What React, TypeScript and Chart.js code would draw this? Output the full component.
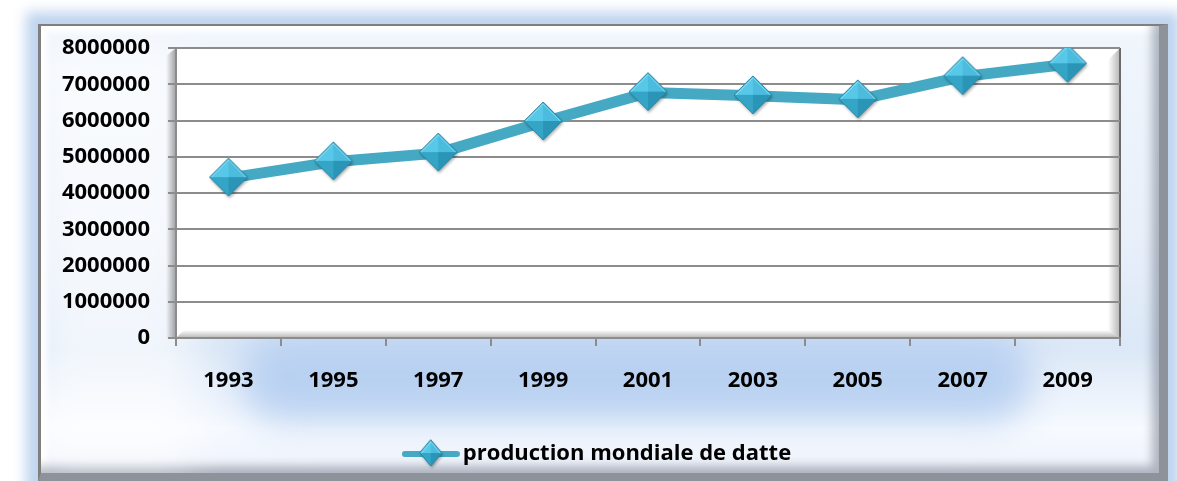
import React, { useEffect, useRef } from 'react';
import { Chart, registerables } from 'chart.js';

Chart.register(...registerables);

const years = ['1993', '1995', '1997', '1999', '2001', '2003', '2005', '2007', '2009'];
const production = [4410000, 4860000, 5100000, 5960000, 6770000, 6680000, 6570000, 7210000, 7550000];
const yMin = 0;
const yMax = 8000000;
const yStep = 1000000;
const seriesLabel = 'production mondiale de datte';

const W = 1177;
const H = 481;
const LINE = '#46A9C4';
const GRID = '#8c8c8c';
const FONT = { family: '"Open Sans", "DejaVu Sans", sans-serif', size: 22, weight: 'bold' as const };

function drawDiamond(ctx: CanvasRenderingContext2D, cx: number, cy: number, hw: number, hh: number) {
  const T = [cx, cy - hh], R = [cx + hw, cy], B = [cx, cy + hh], L = [cx - hw, cy], C = [cx, cy];
  ctx.save();
  ctx.shadowColor = 'rgba(0,0,0,0.35)';
  ctx.shadowBlur = 3;
  ctx.shadowOffsetX = 1;
  ctx.shadowOffsetY = 2;
  ctx.beginPath();
  ctx.moveTo(T[0], T[1]); ctx.lineTo(R[0], R[1]); ctx.lineTo(B[0], B[1]); ctx.lineTo(L[0], L[1]);
  ctx.closePath();
  ctx.fillStyle = '#2E9CBD';
  ctx.fill();
  ctx.restore();
  const tri = (a: number[], b: number[], col: string) => {
    ctx.beginPath();
    ctx.moveTo(a[0], a[1]); ctx.lineTo(b[0], b[1]); ctx.lineTo(C[0], C[1]);
    ctx.closePath();
    ctx.fillStyle = col;
    ctx.fill();
  };
  tri(L, T, '#58C8E8');
  tri(T, R, '#4BBCDE');
  tri(L, B, '#34A5C6');
  tri(B, R, '#2A95B6');
  ctx.beginPath();
  ctx.moveTo(T[0], T[1]); ctx.lineTo(R[0], R[1]); ctx.lineTo(B[0], B[1]); ctx.lineTo(L[0], L[1]);
  ctx.closePath();
  ctx.strokeStyle = '#2A86A3';
  ctx.lineWidth = 1;
  ctx.stroke();
  ctx.beginPath();
  ctx.moveTo(L[0] + 2, L[1]); ctx.lineTo(T[0], T[1] + 2); ctx.lineTo(R[0] - 2, R[1]);
  ctx.strokeStyle = 'rgba(255,255,255,0.35)';
  ctx.stroke();
}

function makeMarker(): HTMLCanvasElement {
  const c = document.createElement('canvas');
  c.width = 46; c.height = 46;
  const ctx = c.getContext('2d')!;
  drawDiamond(ctx, 23, 22, 19, 19);
  return c;
}

function makeLegendSymbol(): HTMLCanvasElement {
  const c = document.createElement('canvas');
  c.width = 58; c.height = 34;
  const ctx = c.getContext('2d')!;
  ctx.strokeStyle = LINE;
  ctx.lineWidth = 6;
  ctx.lineCap = 'round';
  ctx.beginPath();
  ctx.moveTo(3, 17); ctx.lineTo(55, 17);
  ctx.stroke();
  drawDiamond(ctx, 29, 16, 11, 13);
  return c;
}

const plotShading = {
  id: 'plotShading',
  beforeDraw(chart: any) {
    const { ctx, chartArea } = chart;
    const { left, top, right, bottom } = chartArea;
    ctx.save();
    const gl = ctx.createLinearGradient(left - 10, 0, left, 0);
    gl.addColorStop(0, 'rgba(110,110,110,0)');
    gl.addColorStop(1, 'rgba(110,110,110,0.65)');
    ctx.fillStyle = gl;
    ctx.beginPath();
    ctx.moveTo(left - 10, top + 8);
    ctx.lineTo(left, top);
    ctx.lineTo(left, bottom);
    ctx.lineTo(left - 10, bottom);
    ctx.closePath();
    ctx.fill();
    ctx.fillStyle = '#ffffff';
    ctx.fillRect(left, top, right - left, bottom - top);
    const gr = ctx.createLinearGradient(right - 12, 0, right, 0);
    gr.addColorStop(0, 'rgba(90,90,90,0)');
    gr.addColorStop(1, 'rgba(90,90,90,0.45)');
    ctx.fillStyle = gr;
    ctx.beginPath();
    ctx.moveTo(right - 12, top + 12);
    ctx.lineTo(right, top);
    ctx.lineTo(right, bottom);
    ctx.lineTo(right - 12, bottom - 8);
    ctx.closePath();
    ctx.fill();
    const gb = ctx.createLinearGradient(0, bottom - 8, 0, bottom);
    gb.addColorStop(0, 'rgba(90,90,90,0)');
    gb.addColorStop(1, 'rgba(90,90,90,0.45)');
    ctx.fillStyle = gb;
    ctx.beginPath();
    ctx.moveTo(left + 8, bottom - 8);
    ctx.lineTo(right - 12, bottom - 8);
    ctx.lineTo(right, bottom);
    ctx.lineTo(left, bottom);
    ctx.closePath();
    ctx.fill();
    ctx.fillStyle = '#6a6a6a';
    ctx.fillRect(right - 1, top, 2, bottom - top + 1);
    ctx.restore();
  },
};

export default function App() {
  const canvasRef = useRef<HTMLCanvasElement | null>(null);

  useEffect(() => {
    document.body.style.margin = '0';
    const canvas = canvasRef.current;
    if (!canvas) return;
    const marker = makeMarker();
    const legendSymbol = makeLegendSymbol();
    const chart = new Chart(canvas, {
      type: 'line',
      data: {
        labels: years,
        datasets: [
          {
            label: seriesLabel,
            data: production,
            borderColor: LINE,
            backgroundColor: LINE,
            borderWidth: 11,
            tension: 0,
            fill: false,
            pointStyle: marker as any,
            pointRadius: 19,
            pointHoverRadius: 19,
            borderJoinStyle: 'round',
            borderCapStyle: 'round',
          },
        ],
      },
      options: {
        responsive: false,
        animation: false,
        devicePixelRatio: 1,
        layout: { padding: { left: 24, right: 0, top: 48, bottom: 6 } },
        plugins: {
          legend: {
            position: 'bottom',
            labels: {
              usePointStyle: true,
              pointStyle: legendSymbol as any,
              pointStyleWidth: 42,
              color: '#000',
              font: FONT,
              padding: 10,
            },
          },
          tooltip: { enabled: false },
        },
        scales: {
          x: {
            type: 'category',
            offset: true,
            grid: { offset: true, drawOnChartArea: false, color: GRID, lineWidth: 2, tickLength: 8 },
            border: { display: true, color: GRID, width: 2 },
            ticks: { color: '#000', font: FONT, padding: 22, maxRotation: 0, autoSkip: false },
            afterFit: (s: any) => {
              const lh = s.chart.legend ? s.chart.legend.height : 0;
              s.height = H - 338 - 6 - lh;
            },
          },
          y: {
            min: yMin,
            max: yMax,
            ticks: {
              stepSize: yStep,
              color: '#000',
              font: FONT,
              padding: 18,
              callback: (v: any) => String(v),
            },
            grid: { color: GRID, lineWidth: 2, tickLength: 8 },
            border: { display: true, color: GRID, width: 2 },
            afterFit: (s: any) => {
              s.width = 152;
            },
          },
          y2: {
            position: 'right',
            display: true,
            grid: { display: false, drawTicks: false },
            ticks: { display: false },
            border: { display: false },
            afterFit: (s: any) => {
              s.width = 57;
            },
          },
        },
      },
      plugins: [plotShading],
    } as any);
    return () => chart.destroy();
  }, []);

  return (
    <div style={{ position: 'relative', width: W, height: H, overflow: 'hidden', background: '#ffffff' }}>
      <div
        style={{
          position: 'absolute',
          left: 38,
          top: 24,
          width: 1130,
          height: 457,
          boxSizing: 'border-box',
          borderTop: '2px solid #7f7f7f',
          borderLeft: '3px solid #7f7f7f',
          borderRight: '9px solid #8e939b',
          borderBottom: '8px solid #8e939b',
          background:
            'linear-gradient(180deg, #F1F6FD 0%, #E9F0FA 45%, #DCE8F7 72%, #F7FAFF 90%, #EEF3FB 100%)',
          boxShadow:
            '0 0 12px 12px rgba(188,210,238,0.95), inset -10px -10px 10px -3px rgba(120,128,142,0.55), inset 10px 10px 6px -4px rgba(255,255,255,0.95)',
          overflow: 'hidden',
        }}
      >
        <div
          style={{
            position: 'absolute',
            left: 200,
            top: 305,
            width: 790,
            height: 90,
            background: '#B9D1F1',
            filter: 'blur(18px)',
            borderRadius: 40,
          }}
        />
        <div
          style={{
            position: 'absolute',
            left: 0,
            top: 20,
            width: 150,
            height: 420,
            background: 'rgba(255,255,255,0.6)',
            filter: 'blur(20px)',
          }}
        />
      </div>
      <canvas
        ref={canvasRef}
        width={W}
        height={H}
        style={{ position: 'absolute', left: 0, top: 0, width: W, height: H }}
      />
    </div>
  );
}
